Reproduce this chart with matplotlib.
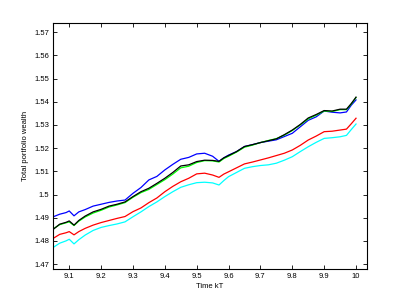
import matplotlib
matplotlib.use("Agg")
import matplotlib.pyplot as plt

t = [9.05, 9.07, 9.09, 9.10, 9.115, 9.13, 9.15, 9.175, 9.20, 9.225, 9.25, 9.275, 9.30,
     9.325, 9.35, 9.375, 9.40, 9.425, 9.45, 9.475, 9.50, 9.525, 9.55, 9.57, 9.585, 9.60,
     9.625, 9.65, 9.675, 9.70, 9.725, 9.75, 9.775, 9.80, 9.825, 9.85, 9.875, 9.90, 9.925,
     9.95, 9.97, 9.985, 10.0]

blue = [1.4904, 1.4915, 1.4922, 1.4929, 1.4908, 1.4925, 1.4935, 1.4950, 1.4958, 1.4966,
        1.4972, 1.4976, 1.5005, 1.5030, 1.5063, 1.5078, 1.5106, 1.5130, 1.5152, 1.5160,
        1.5175, 1.5178, 1.5165, 1.5143, 1.5158, 1.5170, 1.5185, 1.5207, 1.5215, 1.5224,
        1.5230, 1.5236, 1.5250, 1.5264, 1.5292, 1.5320, 1.5335, 1.5360, 1.5355, 1.5352,
        1.5356, 1.5385, 1.5408]
green = [1.4852, 1.4870, 1.4878, 1.4882, 1.4866, 1.4885, 1.4903, 1.4920, 1.4932, 1.4946,
         1.4955, 1.4965, 1.4988, 1.5008, 1.5022, 1.5043, 1.5064, 1.5088, 1.5115, 1.5122,
         1.5138, 1.5146, 1.5145, 1.5140, 1.5155, 1.5165, 1.5183, 1.5204, 1.5213, 1.5224,
         1.5233, 1.5241, 1.5256, 1.5276, 1.5300, 1.5326, 1.5342, 1.5360, 1.5358, 1.5366,
         1.5366, 1.5390, 1.5418]
black = [1.4850, 1.4872, 1.4880, 1.4886, 1.4868, 1.4888, 1.4907, 1.4925, 1.4936, 1.4950,
         1.4958, 1.4968, 1.4991, 1.5012, 1.5027, 1.5048, 1.5070, 1.5095, 1.5123, 1.5128,
         1.5142, 1.5148, 1.5147, 1.5143, 1.5158, 1.5168, 1.5185, 1.5207, 1.5215, 1.5224,
         1.5232, 1.5240, 1.5258, 1.5278, 1.5302, 1.5330, 1.5345, 1.5362, 1.5360, 1.5368,
         1.5368, 1.5392, 1.5420]
red = [1.4811, 1.4828, 1.4835, 1.4840, 1.4826, 1.4840, 1.4854, 1.4868, 1.4879, 1.4888,
       1.4897, 1.4905, 1.4926, 1.4942, 1.4965, 1.4985, 1.5012, 1.5035, 1.5055, 1.5070,
       1.5089, 1.5092, 1.5084, 1.5074, 1.5088, 1.5098, 1.5115, 1.5132, 1.5140, 1.5149,
       1.5158, 1.5168, 1.5178, 1.5192, 1.5212, 1.5235, 1.5252, 1.5271, 1.5273, 1.5278,
       1.5282, 1.5305, 1.5329]
cyan = [1.4772, 1.4790, 1.4800, 1.4807, 1.4787, 1.4805, 1.4825, 1.4845, 1.4858, 1.4866,
        1.4873, 1.4882, 1.4904, 1.4925, 1.4948, 1.4968, 1.4991, 1.5012, 1.5031, 1.5042,
        1.5051, 1.5053, 1.5050, 1.5041, 1.5060, 1.5077, 1.5095, 1.5113, 1.5120, 1.5125,
        1.5128, 1.5135, 1.5148, 1.5163, 1.5185, 1.5206, 1.5225, 1.5242, 1.5245, 1.5249,
        1.5255, 1.5280, 1.5304]

xticks = [9.1, 9.2, 9.3, 9.4, 9.5, 9.6, 9.7, 9.8, 9.9, 10]
xticklabels = ["9.1", "9.2", "9.3", "9.4", "9.5", "9.6", "9.7", "9.8", "9.9", "10"]
yticks = [1.47, 1.48, 1.49, 1.50, 1.51, 1.52, 1.53, 1.54, 1.55, 1.56, 1.57]
yticklabels = ["1.47", "1.48", "1.49", "1.5", "1.51", "1.52", "1.53", "1.54", "1.55", "1.56", "1.57"]

plt.rcParams['font.family'] = ['Liberation Sans', 'DejaVu Sans']

fig = plt.figure(figsize=(4.05, 3.04), dpi=100)
ax = fig.add_axes([53.3 / 405, 1 - 268.7 / 304, (366.7 - 53.3) / 405, (268.7 - 22.7) / 304])

kw = dict(lw=0.9)
ax.plot(t, blue, color='#0000ff', **kw)
ax.plot(t, red, color='#ff0000', **kw)
ax.plot(t, cyan, color='#00ffff', **kw)
ax.plot(t, green, color='#00ff00', **kw)
ax.plot(t, black, color='#000000', **kw)

ax.set_xlim(9.05, 10.0335)
ax.set_ylim(1.468, 1.5741)
ax.set_xticks(xticks)
ax.set_xticklabels(xticklabels)
ax.set_yticks(yticks)
ax.set_yticklabels(yticklabels)
ax.tick_params(direction='in', top=True, right=True, length=3, width=0.6, labelsize=5.5, pad=3)
for s in ax.spines.values():
    s.set_linewidth(0.8)
ax.set_xlabel("Time kT", fontsize=5.5, labelpad=2)
ax.set_ylabel("Total portfolio wealth", fontsize=5.5, labelpad=4)

fig.savefig("out.png", dpi=100)
